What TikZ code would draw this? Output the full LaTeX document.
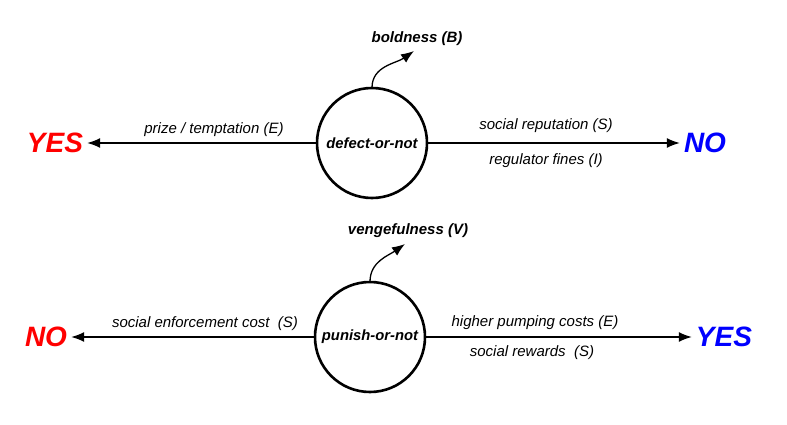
\documentclass[tikz,border=0pt]{standalone}
\usetikzlibrary{arrows.meta}
\usepackage{fontspec}
\setmainfont{Liberation Sans}
\begin{document}
\begin{tikzpicture}[%
 x=1pt,y=-1pt,
 choice/.style={
 	circle,
 	draw=black,
 	line width=2.6pt,
 	fill=white,
 	minimum size=110pt,
 	inner sep=0pt,
 	font=\fontsize{14.8}{17}\selectfont\bfseries\itshape
 },
 answer/.style={
 	inner sep=4pt,
 	font=\fontsize{28}{32}\selectfont\bfseries\itshape
 },
 factor/.style={
 	font=\fontsize{15}{17}\selectfont\itshape,
 	inner sep=1pt
 },
 trait/.style={
 	font=\fontsize{15}{17}\selectfont\bfseries\itshape,
 	inner sep=1pt
 },
 line/.style={
 	draw,line width=1.3pt,
 	-{Latex[length=13pt,width=10pt]}
 }
 ]
 \useasboundingbox (0,0) rectangle (787,425);
 % defect or not
 \draw (372,143) node[choice] (D) {defect-or-not};
 \draw (55,143) node[answer,text=red] (Y1) {YES};
 \draw (705,143) node[answer,text=blue] (N1) {NO};
 \draw[line] (D) -- (Y1);
 \draw[line] (D) -- (N1);
 \path (214,130) node[factor] (prize) {prize / temptation (E)}
 (546,126) node[factor] (rep) {social reputation (S)}
 (546,161) node[factor] (fines) {regulator fines (I)}
 (417,39) node[trait] (bold) {boldness (B)};
 \coordinate (btip) at (414,51);
 \draw[line] (D.north) ++(0,1) to[out=90,in=215] (btip);

 % punish or not
 \draw (370,337) node[choice] (P) {punish-or-not};
 \draw (46,337) node[answer,text=red] (N2) {NO};
 \draw (724,337) node[answer,text=blue] (Y2) {YES};
 \draw[line] (P) -- (N2);
 \draw[line] (P) -- (Y2);
 \path (205,324) node[factor] (cost) {social enforcement cost~~(S)}
 (535,323) node[factor] (pump) {higher pumping costs (E)}
 (532,353) node[factor] (rew) {social rewards~~(S)}
 (408,231) node[trait] (venge) {vengefulness (V)};
 \coordinate (vtip) at (405,244);
 \draw[line] (P.north) ++(0,1) to[out=90,in=215] (vtip);
\end{tikzpicture}
\end{document}
